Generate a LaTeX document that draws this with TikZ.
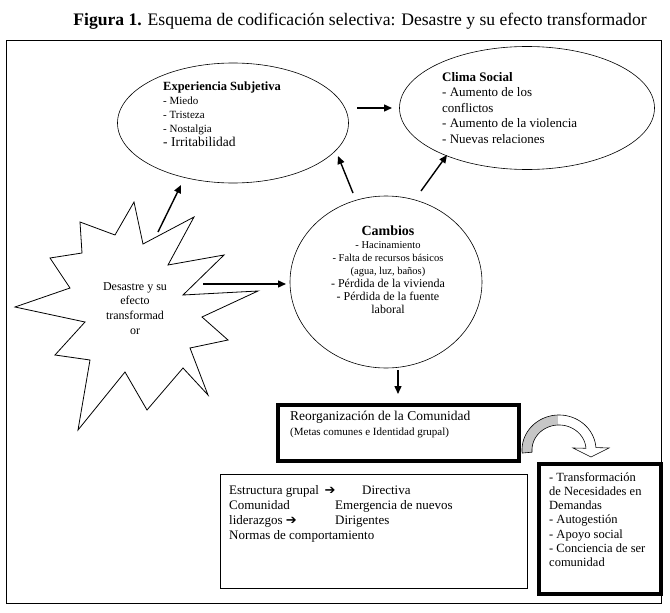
\documentclass[tikz,border=0pt]{standalone}
\usepackage{fontspec}
\setmainfont{Liberation Serif}
\newfontfamily\symfont{DejaVu Sans}
\usetikzlibrary{shapes.geometric,arrows.meta}
\begin{document}
\begin{tikzpicture}[x=1pt,y=-1pt,
  ell/.style={draw, ellipse, line width=0.6pt, inner sep=0pt},
  arr/.style={line width=1.4pt, -{Triangle[length=8pt,width=7pt]}},
  lbl/.style={inner sep=0pt, align=left, anchor=north west},
  thickbox/.style={draw, line width=3.5pt, inner sep=0pt, anchor=north west},
  thinbox/.style={draw, line width=0.9pt, inner sep=0pt, anchor=north west},
]
\useasboundingbox (0,0) rectangle (670,613);
% title
\node[anchor=base, inner sep=0pt, font=\fontsize{17.6}{19}\selectfont] (title) at (360,25) {\textbf{Figura 1.} Esquema de codificación selectiva: Desastre y su efecto transformador};
% frame
\node[thinbox, minimum width=655pt, minimum height=563pt] (frame) at (6,40) {};
% ellipses
\node[ell, minimum width=231pt, minimum height=120pt] (exp) at (233,123) {};
\node[ell, minimum width=255pt, minimum height=123pt] (clima) at (527,108) {};
\node[ell, minimum width=192pt, minimum height=172pt] (camb) at (386,282) {};
% ellipse texts
\node[lbl, font=\fontsize{11}{14}\selectfont] (expt) at (163,81.5) {{\fontsize{12.5}{14}\selectfont\bfseries Experiencia Subjetiva}\\ - Miedo\\ - Tristeza\\ - Nostalgia\\ {\fontsize{13.5}{14}\selectfont - Irritabilidad}};
\node[lbl, font=\fontsize{13}{15.5}\selectfont] (climat) at (442,72) {\textbf{Clima Social}\\ - Aumento de los\\ conflictos\\ - Aumento de la violencia\\ - Nuevas relaciones};
\node[lbl, align=center, anchor=north, font=\fontsize{10.5}{13}\selectfont] (cambt) at (388,226) {{\fontsize{14}{15}\selectfont\bfseries Cambios}\\ - Hacinamiento\\ - Falta de recursos básicos\\ (agua, luz, baños)\\ {\fontsize{12}{13}\selectfont - Pérdida de la vivienda}\\ {\fontsize{12}{13}\selectfont - Pérdida de la fuente}\\ {\fontsize{12}{13}\selectfont laboral}};
% star
\draw[line width=0.8pt, fill=white] (134,202) -- (143,244) -- (194,217) -- (168,265) -- (224,255) -- (183,295) -- (258,291) -- (202,317) -- (228,340) -- (190,348) -- (208,395) -- (183,368) -- (147,410) -- (125,372) -- (78,430) -- (90,360) -- (55,355) -- (85,322) -- (15,307) -- (70,288) -- (50,258) -- (82,253) -- (80,222) -- (115,235) -- cycle;
\node[lbl, align=center, anchor=north, font=\fontsize{12}{14.8}\selectfont] (star) at (135,282) {Desastre y su\\ efecto\\ transformad\\ or};
% reorganizacion box
\node[thickbox, minimum width=241pt, minimum height=56pt] (reorg) at (276,403) {};
\node[lbl, font=\fontsize{11}{14.5}\selectfont] (reorgt) at (290,411) {{\fontsize{13.5}{14}\selectfont Reorganización de la Comunidad}\\ (Metas comunes e Identidad grupal)};
% lower box
\node[thinbox, minimum width=307pt, minimum height=114pt] (estr) at (220,474) {};
\node[lbl, font=\fontsize{13}{15}\selectfont] (estrt) at (229,485) {%
\makebox[133pt][l]{Estructura grupal \,{\symfont\bfseries\fontsize{13}{13}\selectfont ➔}}Directiva\\
\makebox[106pt][l]{Comunidad}Emergencia de nuevos\\
\makebox[106pt][l]{liderazgos {\symfont\bfseries\fontsize{13}{13}\selectfont ➔}}Dirigentes\\
Normas de comportamiento};
% transformacion box
\node[thickbox, minimum width=122pt, minimum height=130pt] (trans) at (537,462) {};
\node[lbl, font=\fontsize{12.5}{14.3}\selectfont] (transt) at (549,472) {- Transformación\\ de Necesidades en\\ Demandas\\ - Autogestión\\ - Apoyo social\\ - Conciencia de ser\\ comunidad};
% curved arrow
\fill[gray!45] plot[domain=185:92,samples=40] ({559+37*cos(\x)},{450-35*sin(\x)}) -- plot[domain=92:185,samples=40] ({559+27*cos(\x)},{450-25*sin(\x)}) -- cycle;
\draw[line width=0.6pt] plot[domain=185:4,samples=80] ({559+37*cos(\x)},{450-35*sin(\x)}) -- (609,448) -- (591,457) -- (573,448) -- plot[domain=4:185,samples=80] ({559+27*cos(\x)},{450-25*sin(\x)}) -- cycle;
% arrow endpoints
\coordinate (a1s) at (357,108); \coordinate (a1e) at (392,108);
\coordinate (a2s) at (353,193); \coordinate (a2e) at (338,156);
\coordinate (a3s) at (421,191); \coordinate (a3e) at (447,155);
\coordinate (a4s) at (158,232); \coordinate (a4e) at (181,185);
\coordinate (a5s) at (203,284); \coordinate (a5e) at (286,284);
\coordinate (a6s) at (398,370); \coordinate (a6e) at (398,394);
\draw[arr] (a1s) -- (a1e);
\draw[arr] (a2s) -- (a2e);
\draw[arr] (a3s) -- (a3e);
\draw[arr] (a4s) -- (a4e);
\draw[arr] (a5s) -- (a5e);
\draw[arr] (a6s) -- (a6e);
\end{tikzpicture}
\end{document}
